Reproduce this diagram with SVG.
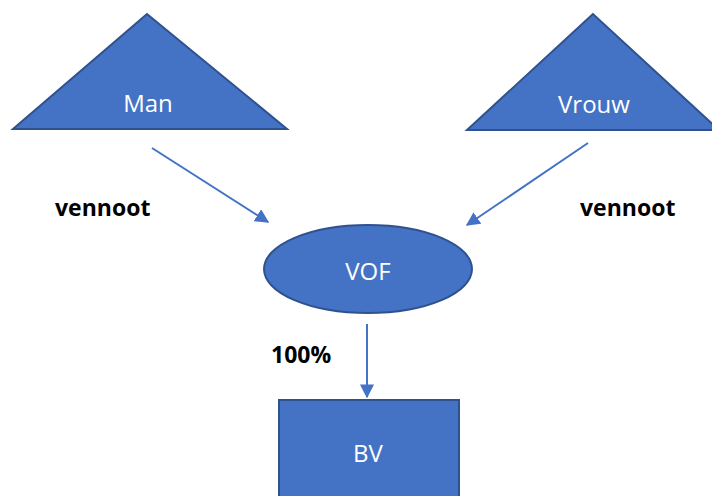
<svg xmlns="http://www.w3.org/2000/svg" width="712" height="496" viewBox="0 0 712 496">
<style>
.shape{fill:#4472C4;stroke:#2F528F;stroke-width:2}
.lbl{font-family:"Open Sans","Liberation Sans",sans-serif;font-size:24px;fill:#FFFFFF;text-anchor:middle}
.note{font-family:"Open Sans","Liberation Sans",sans-serif;font-size:23px;font-weight:bold;fill:#000000}
.conn{stroke:#4472C4;stroke-width:2;fill:none;marker-end:url(#arr)}
</style>
<defs>
<marker id="arr" viewBox="0 0 10 10" refX="9" refY="5" markerWidth="7" markerHeight="7" orient="auto" markerUnits="strokeWidth">
<path d="M0,0 L10,5 L0,10 z" fill="#4472C4"/>
</marker>
</defs>
<rect width="712" height="496" fill="#FFFFFF"/>
<g id="man">
<polygon class="shape" points="147,14 13,129 287,129"/>
<text class="lbl" x="148" y="112">Man</text>
</g>
<g id="vrouw">
<polygon class="shape" points="593,14 467,130 719,130"/>
<text class="lbl" x="594" y="113">Vrouw</text>
</g>
<g id="vof">
<ellipse class="shape" cx="368" cy="269" rx="104" ry="44"/>
<text class="lbl" x="368" y="280">VOF</text>
</g>
<g id="bv">
<rect class="shape" x="279" y="400" width="180" height="110"/>
<text class="lbl" x="368" y="462">BV</text>
</g>
<g id="connectors">
<line class="conn" x1="152" y1="148" x2="268" y2="222"/>
<line class="conn" x1="588" y1="143" x2="467" y2="225"/>
<line class="conn" x1="367" y1="324" x2="367" y2="397"/>
</g>
<g id="labels">
<text class="note" x="55" y="216">vennoot</text>
<text class="note" x="580" y="216">vennoot</text>
<text class="note" x="271" y="363">100%</text>
</g>
</svg>
